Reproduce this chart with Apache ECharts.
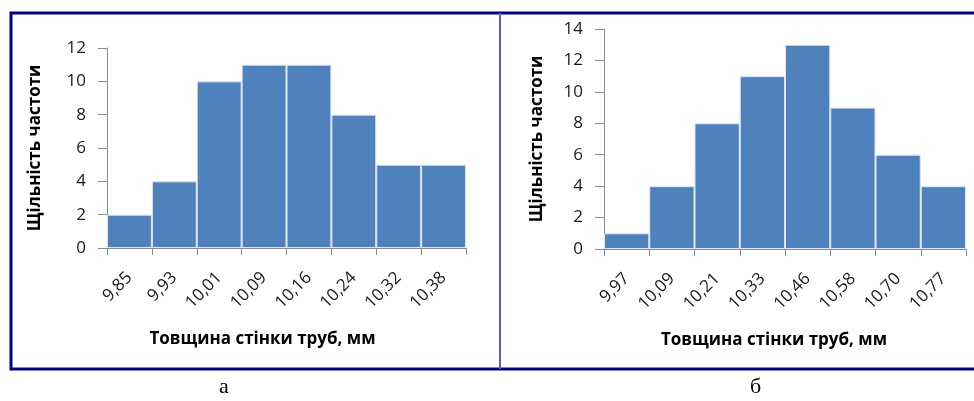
<!DOCTYPE html>
<html>
<head>
<meta charset="utf-8">
<script src="https://cdn.jsdelivr.net/npm/echarts@6/dist/echarts.min.js"></script>
<style>
  html, body { margin: 0; padding: 0; background: #fff; }
  #chart { width: 974px; height: 401px; }
</style>
</head>
<body>
<div id="chart"></div>
<script>
// гістограма а
var categoriesA = ['9,85', '9,93', '10,01', '10,09', '10,16', '10,24', '10,32', '10,38'];
var valuesA = [2, 4, 10, 11, 11, 8, 5, 5];
// гістограма б
var categoriesB = ['9,97', '10,09', '10,21', '10,33', '10,46', '10,58', '10,70', '10,77'];
var valuesB = [1, 4, 8, 11, 13, 9, 6, 4];

var yName = 'Щільність частоти';
var xName = 'Товщина стінки труб, мм';

var barColor = '#4f81bd';
var axisColor = '#8c8c8c';
var font = '"Open Sans"';

function xAxisCfg(gridIndex, data, shift) {
    return {
        type: 'category',
        gridIndex: gridIndex,
        data: data,
        boundaryGap: true,
        axisLine: { lineStyle: { color: axisColor, width: 1 } },
        axisTick: { show: true, length: 7, lineStyle: { color: axisColor } },
        axisLabel: {
            rotate: 45, interval: 0, margin: 27,
            fontFamily: font, fontSize: 17, color: '#1a1a1a'
        },
        name: xName,
        nameLocation: 'middle',
        nameGap: 83,
        nameTextStyle: {
            fontFamily: font, fontSize: 17, fontWeight: 'bold', color: '#000',
            padding: [0, shift, 0, 0]
        }
    };
}

function yAxisCfg(gridIndex, max, gap) {
    return {
        type: 'value',
        gridIndex: gridIndex,
        min: 0, max: max, interval: 2,
        splitLine: { show: false },
        axisLine: { show: true, lineStyle: { color: axisColor, width: 1 } },
        axisTick: { show: true, length: 9, lineStyle: { color: axisColor } },
        axisLabel: { margin: 21, fontFamily: font, fontSize: 17, color: '#1a1a1a' },
        name: yName,
        nameLocation: 'middle',
        nameGap: gap,
        nameTextStyle: { fontFamily: font, fontSize: 17, fontWeight: 'bold', color: '#000' }
    };
}

function barSeries(idx, data) {
    return {
        type: 'bar',
        xAxisIndex: idx, yAxisIndex: idx,
        data: data,
        barCategoryGap: 0,
        itemStyle: { color: barColor, borderColor: '#dde6f2', borderWidth: 1 },
        silent: true
    };
}

var myChart = echarts.init(document.getElementById('chart'));
var option = {
    animation: false,
    grid: [
        { left: 107, top: 48, width: 359, height: 200 },
        { left: 604, top: 29, width: 362, height: 220 }
    ],
    xAxis: [xAxisCfg(0, categoriesA, 48), xAxisCfg(1, categoriesB, 22)],
    yAxis: [yAxisCfg(0, 12, 63), yAxisCfg(1, 14, 58)],
    series: [barSeries(0, valuesA), barSeries(1, valuesB)],
    graphic: [
        // рамка
        { type: 'rect', shape: { x: 11, y: 13, width: 980, height: 356 },
          style: { fill: 'none', stroke: '#000090', lineWidth: 3 }, z: 10 },
        { type: 'line', shape: { x1: 500, y1: 13, x2: 500, y2: 369 },
          style: { stroke: '#5a5ab8', lineWidth: 2 }, z: 10 },
        { type: 'text', left: 219, top: 376,
          style: { text: 'а', font: '22px "Liberation Serif"', fill: '#000' } },
        { type: 'text', left: 750, top: 376,
          style: { text: 'б', font: '22px "Liberation Serif"', fill: '#000' } }
    ]
};
myChart.setOption(option);
</script>
</body>
</html>
